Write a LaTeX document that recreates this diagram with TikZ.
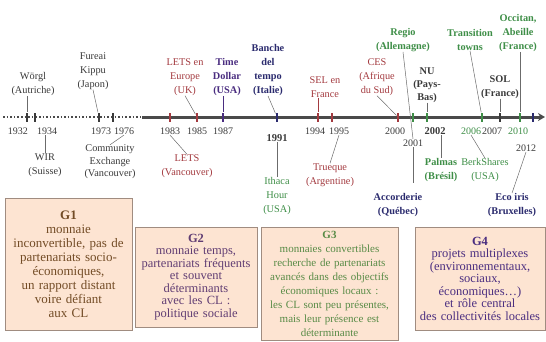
\documentclass[tikz,border=0pt]{standalone}
\usepackage{fontspec}
\setmainfont{Liberation Serif}
\usetikzlibrary{arrows.meta,positioning,calc}

\definecolor{labred}{HTML}{A33A3F}
\definecolor{labgreen}{HTML}{3E8E47}
\definecolor{labnavy}{HTML}{2B2B6E}
\definecolor{labpurple}{HTML}{4A2D80}
\definecolor{labdark}{HTML}{3A3A3A}
\definecolor{boxfill}{HTML}{FDE4D2}
\definecolor{boxline}{HTML}{A08C80}
\definecolor{axisgrey}{HTML}{4A4A4A}

\tikzset{
  lbl/.style={align=center, inner sep=0pt, font=\fontsize{10.3}{14}\selectfont, text=#1},
  lbl/.default=labdark,
  yr/.style={inner sep=0.5pt, font=\fontsize{10}{12}\selectfont, text=#1},
  yr/.default=labdark,
  tickm/.style={fill=#1, minimum width=2.6pt, minimum height=9pt, inner sep=0pt},
  lead/.style={draw=labdark!75, line width=0.5pt},
  grp/.style={draw=boxline, fill=boxfill, align=center, inner sep=2pt, line width=0.8pt, text=#1},
}

\begin{document}
\begin{tikzpicture}[x=1pt, y=-1pt]
  \useasboundingbox (0,0) rectangle (546,341);

  % time axis
  \coordinate (axstart) at (3,117);
  \coordinate (axmid) at (142,117);
  \coordinate (axend) at (545,117);
  \draw[axisgrey, dotted, line width=1.6pt] (axstart) -- (axmid);
  \draw[axisgrey, line width=3pt, -{Stealth[length=7pt,width=8pt]}] (axmid) -- (axend);

  % ticks
  \node[tickm=labdark] (t1932) at (27,117) {};
  \node[tickm=labdark] (t1934) at (35,117) {};
  \node[tickm=labdark] (t1973) at (99,117) {};
  \node[tickm=labdark] (t1976) at (113,117) {};
  \node[tickm=labred] (t1983) at (170,117) {};
  \node[tickm=labred] (t1985) at (197,117) {};
  \node[tickm=labpurple] (t1987) at (223,117) {};
  \node[tickm=labnavy] (t1991) at (277,117) {};
  \node[tickm=labred] (t1994) at (318,117) {};
  \node[tickm=labred] (t1995) at (332,117) {};
  \node[tickm=labred] (t2000) at (398,117) {};
  \node[tickm=labgreen] (t2001) at (413,117) {};
  \node[tickm=labgreen] (t2002) at (427,117) {};
  \node[tickm=labgreen] (t2006) at (482,117) {};
  \node[tickm=labdark] (t2007) at (500,117) {};
  \node[tickm=labgreen] (t2010) at (520,117) {};
  \node[tickm=labnavy] (t2012) at (533,117) {};

  % years
  \node[yr] (y1932) at (18,131) {1932};
  \node[yr] (y1934) at (47,131) {1934};
  \node[yr] (y1973) at (101,131) {1973};
  \node[yr] (y1976) at (124,131) {1976};
  \node[yr] (y1983) at (170,131) {1983};
  \node[yr] (y1985) at (197,131) {1985};
  \node[yr] (y1987) at (223,131) {1987};
  \node[yr, font=\fontsize{10.5}{12}\selectfont\bfseries] (y1991) at (277,138) {1991};
  \node[yr] (y1994) at (315,131) {1994};
  \node[yr] (y1995) at (339,131) {1995};
  \node[yr] (y2000) at (395,131) {2000};
  \node[yr] (y2001) at (413,143) {2001};
  \node[yr, font=\fontsize{10.5}{12}\selectfont\bfseries] (y2002) at (435,131) {2002};
  \node[yr=labgreen] (y2006) at (471,131) {2006};
  \node[yr] (y2007) at (492,131) {2007};
  \node[yr=labgreen] (y2010) at (518,131) {2010};
  \node[yr] (y2012) at (526,148) {2012};

  % labels above the axis
  \node[lbl] (worgl) at (33,84) {Wörgl\\(Autriche)};
  \node[lbl] (fureai) at (93,71) {Fureai\\Kippu\\(Japon)};
  \node[lbl=labred] (letsuk) at (185,77) {LETS en\\Europe\\(UK)};
  \node[lbl=labpurple, font=\fontsize{10.3}{14}\selectfont\bfseries] (timedollar) at (227,77) {Time\\Dollar\\(USA)};
  \node[lbl=labnavy, font=\fontsize{10.3}{14}\selectfont\bfseries] (banche) at (268,70) {Banche\\del\\tempo\\(Italie)};
  \node[lbl=labred] (selfr) at (325,87) {SEL en\\France};
  \node[lbl=labred] (ces) at (377,77) {CES\\(Afrique\\du Sud)};
  \node[lbl=labgreen, font=\fontsize{10.3}{14}\selectfont\bfseries] (regio) at (403,40) {Regio\\(Allemagne)};
  \node[lbl, font=\fontsize{10.3}{13}\selectfont\bfseries] (nu) at (427,85) {NU\\(Pays-\\Bas)};
  \node[lbl=labgreen, font=\fontsize{10.3}{14}\selectfont\bfseries] (transition) at (470,40) {Transition\\towns};
  \node[lbl, font=\fontsize{10.3}{14}\selectfont\bfseries] (sol) at (500,87) {SOL\\(France)};
  \node[lbl=labgreen, font=\fontsize{10.3}{14}\selectfont\bfseries] (occitan) at (518,33) {Occitan,\\Abeille\\(France)};

  % labels below the axis
  \node[lbl] (wir) at (45,165) {WIR\\(Suisse)};
  \node[lbl, font=\fontsize{10.3}{12.5}\selectfont] (community) at (110,162) {Community\\Exchange\\(Vancouver)};
  \node[lbl=labred] (letsvan) at (187,166) {LETS\\(Vancouver)};
  \node[lbl=labgreen] (ithaca) at (277,196) {Ithaca\\Hour\\(USA)};
  \node[lbl=labred] (trueque) at (330,175) {Trueque\\(Argentine)};
  \node[lbl=labnavy, font=\fontsize{10.3}{14}\selectfont\bfseries] (accorderie) at (398,205) {Accorderie\\(Québec)};
  \node[lbl=labgreen, font=\fontsize{10.3}{14}\selectfont\bfseries] (palmas) at (441,170) {Palmas\\(Brésil)};
  \node[lbl=labgreen] (berkshares) at (485,170) {BerkShares\\(USA)};
  \node[lbl=labnavy, font=\fontsize{10.3}{14}\selectfont\bfseries] (ecoiris) at (512,205) {Eco iris\\(Bruxelles)};

  % leaders
  \draw[lead] (worgl.south -| t1932) -- (t1932);
  \draw[lead] (fureai.south) -- (t1973);
  \draw[lead] (letsuk.south) -- (t1985);
  \draw[lead, draw=labpurple] (timedollar.south -| t1987) -- (t1987);
  \draw[lead] (banche.south) -- (t1991);
  \draw[lead, draw=labred] (selfr.south -| t1994) -- (t1994);
  \draw[lead] (ces.south) -- (t2000);
  \draw[lead] (regio.south) -- (y2001.north);
  \draw[lead] (nu.south) -- (t2002);
  \draw[lead] (transition.south) -- (t2006);
  \draw[lead] (sol.south) -- (t2007);
  \draw[lead] (occitan.south -| t2010) -- (t2010);
  \draw[lead] (y1934.south -| wir.north) -- (wir.north);
  \draw[lead] (y1976.south) -- (community.north);
  \draw[lead] (y1983.south) -- (letsvan.north);
  \draw[lead] (y1991.south) -- (ithaca.north);
  \draw[lead] (y1995.south) -- (trueque.north);
  \draw[lead] (y2001.south) -- ($(accorderie.north -| y2001.south)+(0,-10)$);
  \draw[lead] (y2002.south -| palmas.north) -- (palmas.north);
  \draw[lead] (y2006.south) -- (berkshares.north);
  \draw[lead] (y2012.south) -- (ecoiris.north);

  % groups
  \node[grp=brown!60!black, minimum width=127pt, minimum height=132pt, text width=123pt,
        font=\fontsize{13}{14}\selectfont] (g1) at (68.5,264)
    {\textbf{G1}\\monnaie\\inconvertible, pas de\\partenariats socio-\\économiques,\\un rapport distant\\voire défiant\\aux CL};
  \node[grp=labpurple!80!brown, minimum width=122pt, minimum height=100pt, text width=118pt,
        font=\fontsize{12.5}{12.5}\selectfont] (g2) at (196,277)
    {\textbf{G2}\\monnaie temps,\\partenariats fréquents\\et souvent\\déterminants\\avec les CL :\\politique sociale};
  \node[grp=labgreen!80!brown, minimum width=137pt, minimum height=113pt, text width=133pt,
        font=\fontsize{11}{14}\selectfont] (g3) at (329.5,284)
    {\textbf{G3}\\monnaies convertibles\\recherche de partenariats\\avancés dans des objectifs\\économiques locaux :\\les CL sont peu présentes,\\mais leur présence est\\déterminante};
  \node[grp=labpurple, minimum width=130pt, minimum height=103pt, text width=126pt,
        font=\fontsize{12.5}{12.5}\selectfont] (g4) at (480,278.5)
    {\textbf{G4}\\projets multiplexes\\(environnementaux,\\sociaux,\\économiques…)\\et rôle central\\des collectivités locales};
\end{tikzpicture}
\end{document}
